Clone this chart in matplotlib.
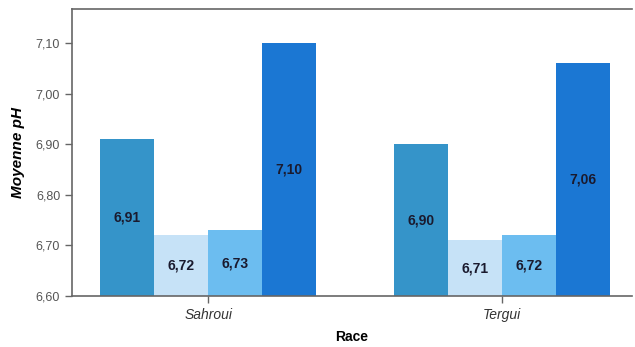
import matplotlib.pyplot as plt
import numpy as np

# Data
races = ['Sahroui', 'Tergui']
series = [
    [6.91, 6.90],
    [6.72, 6.71],
    [6.73, 6.72],
    [7.10, 7.06],
]
colors = ['#3594c9', '#c6e2f7', '#6cbdf0', '#1b77d3']
yticks = [6.60, 6.70, 6.80, 6.90, 7.00, 7.10]

plt.rcParams['font.family'] = ['Liberation Sans', 'DejaVu Sans']

fig = plt.figure(figsize=(6.35, 3.47), dpi=100)
ax = fig.add_axes([0.1134, 0.147, 0.882, 0.827])

x = np.arange(len(races))
bar_width = 0.184
base = 6.60

for i, (vals, color) in enumerate(zip(series, colors)):
    offs = (i - 1.5) * bar_width
    heights = [v - base for v in vals]
    bars = ax.bar(x + offs, heights, width=bar_width, bottom=base, color=color, edgecolor='none')
    ax.bar_label(bars, labels=[f"{v:.2f}".replace('.', ',') for v in vals],
                 label_type='center', fontsize=10, fontweight='bold', color='#1a1a2e')

ax.set_ylim(6.60, 7.167)
ax.set_xlim(-0.463, 1.442)
ax.set_yticks(yticks)
ax.set_yticklabels([f"{t:.2f}".replace('.', ',') for t in yticks], fontsize=9, color='#555555')
ax.set_xticks(x)
ax.set_xticklabels(races, fontsize=10, style='italic', color='#333333')

ax.set_ylabel('Moyenne pH', fontsize=11, fontweight='bold', style='italic', labelpad=8)
ax.set_xlabel('Race', fontsize=10, fontweight='bold', labelpad=6)

for side in ['left', 'top', 'bottom']:
    ax.spines[side].set_color('#666666')
    ax.spines[side].set_linewidth(1.2)
ax.spines['right'].set_visible(False)
ax.tick_params(axis='both', color='#666666', length=5, width=1)

fig.savefig('out.png', dpi=100)
